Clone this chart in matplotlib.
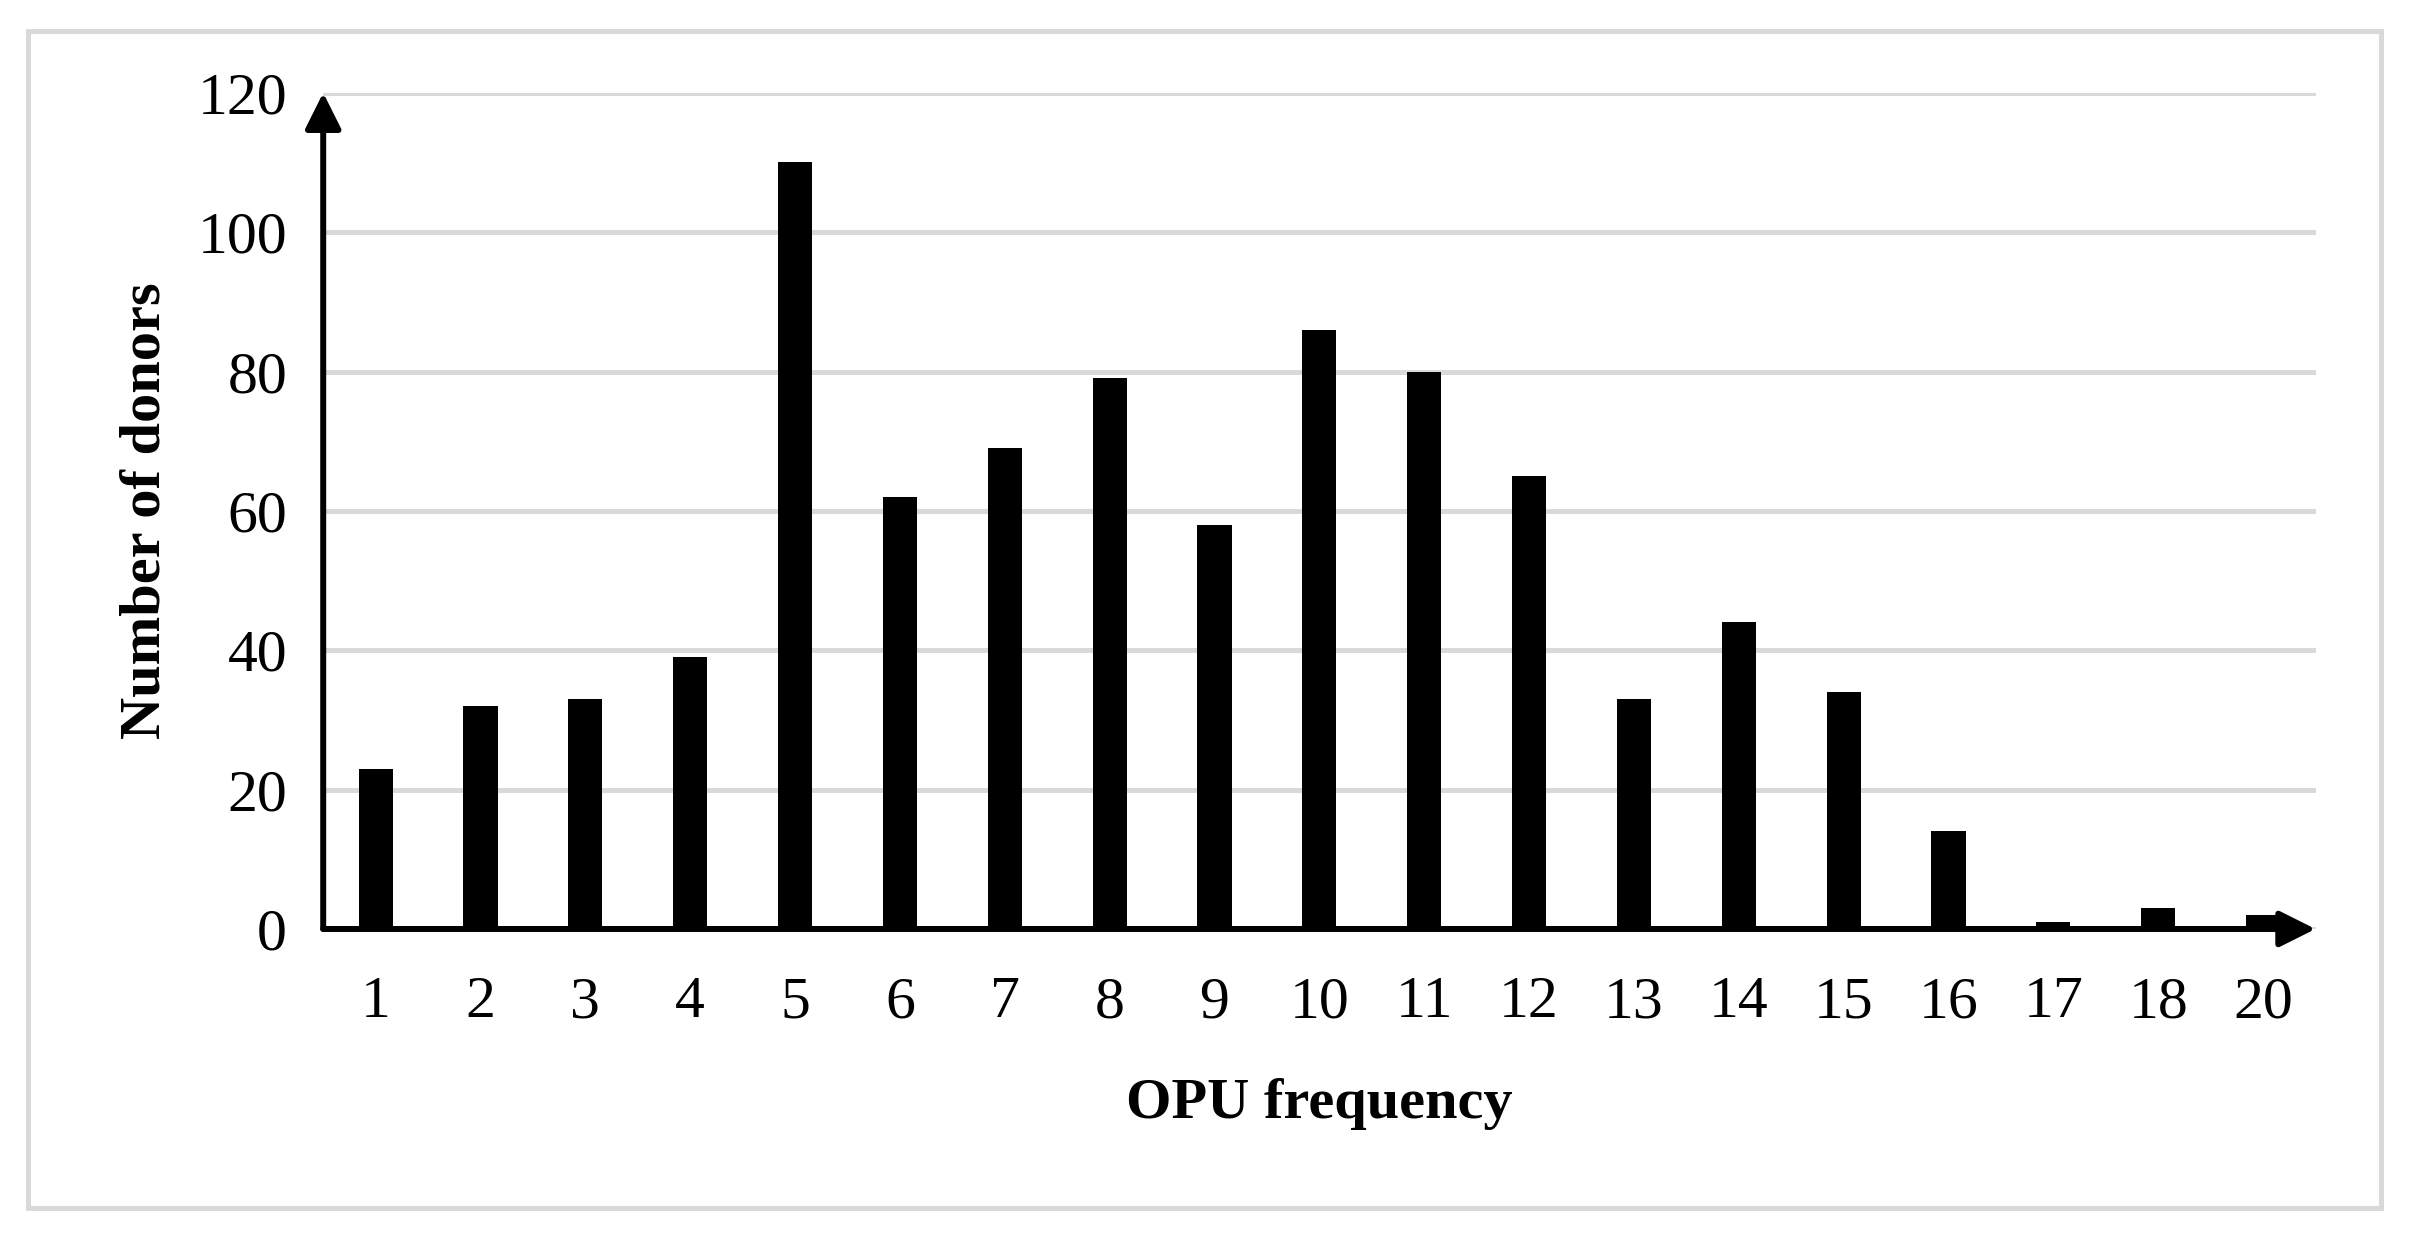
import matplotlib
matplotlib.use('Agg')
import matplotlib.pyplot as plt
from matplotlib.patches import FancyArrowPatch, Rectangle

plt.rcParams['font.family'] = 'Liberation Serif'

opu_freq = ['1', '2', '3', '4', '5', '6', '7', '8', '9', '10',
            '11', '12', '13', '14', '15', '16', '17', '18', '20']
donors = [23, 32, 33, 39, 110, 62, 69, 79, 58, 86,
          80, 65, 33, 44, 34, 14, 1, 3, 2]
yticks = [0, 20, 40, 60, 80, 100, 120]

fig = plt.figure(figsize=(24.12, 12.37), dpi=100)
ax = fig.add_axes([0.134, 0.249, 0.826, 0.676])

x = list(range(len(opu_freq)))
ax.bar(x, donors, width=0.325, color='black', zorder=6)

ax.set_xlim(-0.5, len(opu_freq) - 0.5)
ax.set_ylim(0, 120)
ax.set_yticks(yticks)
ax.set_xticks(x)
ax.set_xticklabels(opu_freq)
ax.tick_params(axis='both', length=0, labelsize=43)
ax.tick_params(axis='y', pad=26)
ax.tick_params(axis='x', pad=34)

for s in ax.spines.values():
    s.set_visible(False)
ax.yaxis.grid(True, color='#d9d9d9', lw=3.6, zorder=0)
ax.set_axisbelow(True)

# axes drawn as arrows
style = '-|>,head_length=22,head_width=11'
xa = FancyArrowPatch((-0.5, 0), (len(opu_freq) - 0.5, 0), arrowstyle=style,
                     mutation_scale=1, lw=4.3, color='black',
                     shrinkA=0, shrinkB=0, zorder=5, clip_on=False)
ya = FancyArrowPatch((-0.5, 0), (-0.5, 120), arrowstyle=style,
                     mutation_scale=1, lw=4.3, color='black',
                     shrinkA=0, shrinkB=0, zorder=5, clip_on=False)
ax.add_patch(xa)
ax.add_patch(ya)

ax.set_xlabel('OPU frequency', fontsize=42, fontweight='bold', va='center')
ax.xaxis.set_label_coords(0.5, -0.209)
ax.set_ylabel('Number of donors', fontsize=42, fontweight='bold', va='center')
ax.yaxis.set_label_coords(-0.089, 0.5)

# light outer frame
fig.patches.append(Rectangle((0.0115, 0.0235), 0.9755, 0.9515,
                             transform=fig.transFigure, fill=False,
                             edgecolor='#d9d9d9', lw=3.6))

fig.savefig('out.png', dpi=100)
